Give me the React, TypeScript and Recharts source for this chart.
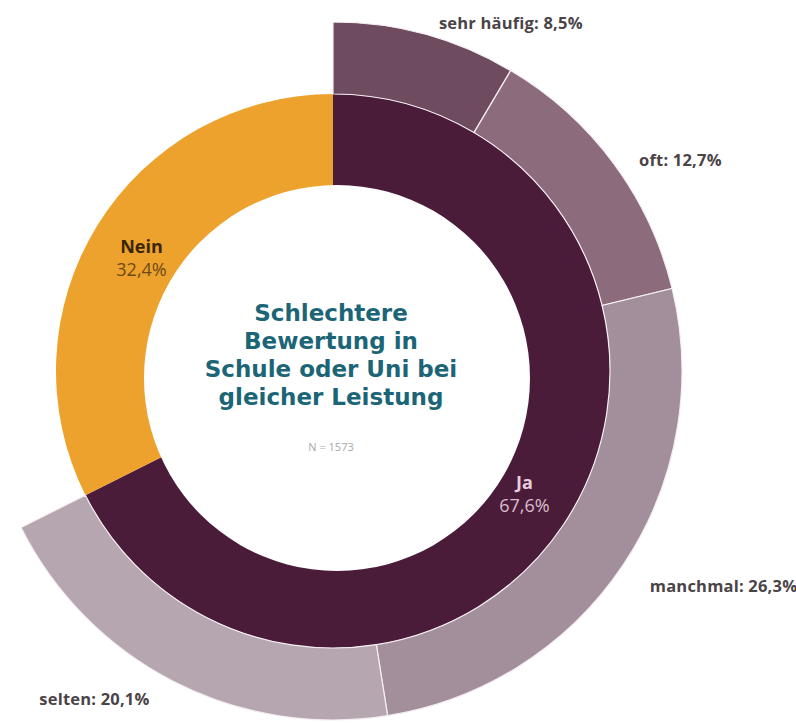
import React from "react";
import { PieChart, Pie, Cell } from "recharts";

const innerNames = ["Ja", "Nein"];
const innerValues = [67.6, 32.4];
const innerColors = ["#4b1c39", "#eea22e"];
const innerNameColors = ["#e6cfdd", "#3b2608"];
const innerPctColors = ["#d9bccd", "#6e4a16"];

const outerNames = ["sehr häufig", "oft", "manchmal", "selten"];
const outerValues = [8.5, 12.7, 26.3, 20.1];
const outerColors = ["#6f4b60", "#8c6b7d", "#a38f9b", "#b6a6b0"];

const titleLines = ["Schlechtere", "Bewertung in", "Schule oder Uni bei", "gleicher Leistung"];
const sampleLabel = "N = 1573";

const innerData = innerNames.map((name, i) => ({ name, value: innerValues[i] }));
const outerData = outerNames.map((name, i) => ({ name, value: outerValues[i] }));
const holeData = [{ name: "hole", value: 1 }];

const RAD = Math.PI / 180;
const fmt = (v: number) => v.toFixed(1).replace(".", ",") + "%";

const CX = 328;
const CY = 366;
const RING_R = 277;
const OUTER_R = 349;
const JA_END = 90 - (360 * innerValues[0]) / 100;

const outerLabel = (props: any) => {
  const { cx, cy, midAngle, outerRadius, index } = props;
  const r = outerRadius + 22;
  const px = cx + r * Math.cos(-midAngle * RAD);
  const right = px > cx;
  const x = px + (right ? 8 : -14);
  const y = cy + (right ? 9 : -3) + r * Math.sin(-midAngle * RAD);
  return (
    <text
      x={x}
      y={y}
      textAnchor={right ? "start" : "end"}
      dominantBaseline="central"
      fontFamily="'Open Sans', sans-serif"
      fontWeight={700}
      fontSize={16.5}
      letterSpacing={0.2}
      fill="#4a4447"
    >
      {outerNames[index] + ": " + fmt(outerValues[index])}
    </text>
  );
};

const innerLabel = (props: any) => {
  const { cx, cy, midAngle, index } = props;
  const r = 225;
  const x = cx + r * Math.cos(-midAngle * RAD);
  const y = cy + 4 + r * Math.sin(-midAngle * RAD);
  return (
    <g>
      <text
        x={x}
        y={y - 11}
        textAnchor="middle"
        dominantBaseline="central"
        fontFamily="'Open Sans', sans-serif"
        fontWeight={700}
        fontSize={18}
        fill={innerNameColors[index]}
      >
        {innerNames[index]}
      </text>
      <text
        x={x}
        y={y + 12}
        textAnchor="middle"
        dominantBaseline="central"
        fontFamily="'Open Sans', sans-serif"
        fontSize={18}
        fill={innerPctColors[index]}
      >
        {fmt(innerValues[index])}
      </text>
    </g>
  );
};

export default function App() {
  return (
    <div style={{ position: "absolute", left: 0, top: 0, width: 796, height: 723, background: "#fff" }}>
      <PieChart width={796} height={723}>
        <Pie
          data={innerData}
          dataKey="value"
          nameKey="name"
          cx={CX}
          cy={CY}
          innerRadius={0}
          outerRadius={RING_R}
          startAngle={90}
          endAngle={-270}
          stroke="none"
          isAnimationActive={false}
        >
          {innerData.map((d, i) => (
            <Cell key={d.name} fill={innerColors[i]} />
          ))}
        </Pie>
        <Pie
          data={holeData}
          dataKey="value"
          cx={332}
          cy={373}
          innerRadius={0}
          outerRadius={193}
          startAngle={90}
          endAngle={-270}
          fill="#ffffff"
          stroke="none"
          isAnimationActive={false}
        />
        <Pie
          data={innerData}
          dataKey="value"
          nameKey="name"
          cx={CX}
          cy={CY}
          innerRadius={0}
          outerRadius={RING_R}
          startAngle={90}
          endAngle={-270}
          fill="none"
          stroke="none"
          label={innerLabel}
          labelLine={false}
          isAnimationActive={false}
        >
          {innerData.map((d) => (
            <Cell key={d.name} fill="none" stroke="none" />
          ))}
        </Pie>
        <Pie
          data={outerData}
          dataKey="value"
          nameKey="name"
          cx={CX}
          cy={CY}
          innerRadius={RING_R}
          outerRadius={OUTER_R}
          startAngle={90}
          endAngle={JA_END}
          stroke="#f4eef2"
          strokeWidth={1.2}
          label={outerLabel}
          labelLine={false}
          isAnimationActive={false}
        >
          {outerData.map((d, i) => (
            <Cell key={d.name} fill={outerColors[i]} />
          ))}
        </Pie>
      </PieChart>
      <div
        style={{
          position: "absolute",
          left: 131,
          top: 299,
          width: 400,
          textAlign: "center",
          fontFamily: "'DejaVu Sans', sans-serif",
          fontWeight: 700,
          fontSize: 23,
          lineHeight: "28px",
          color: "#1c6577",
        }}
      >
        {titleLines.map((l) => (
          <div key={l}>{l}</div>
        ))}
      </div>
      <div
        style={{
          position: "absolute",
          left: 131,
          top: 439,
          width: 400,
          textAlign: "center",
          fontFamily: "'Open Sans', sans-serif",
          fontSize: 11,
          lineHeight: "16px",
          color: "#a8a8a8",
        }}
      >
        {sampleLabel}
      </div>
    </div>
  );
}
